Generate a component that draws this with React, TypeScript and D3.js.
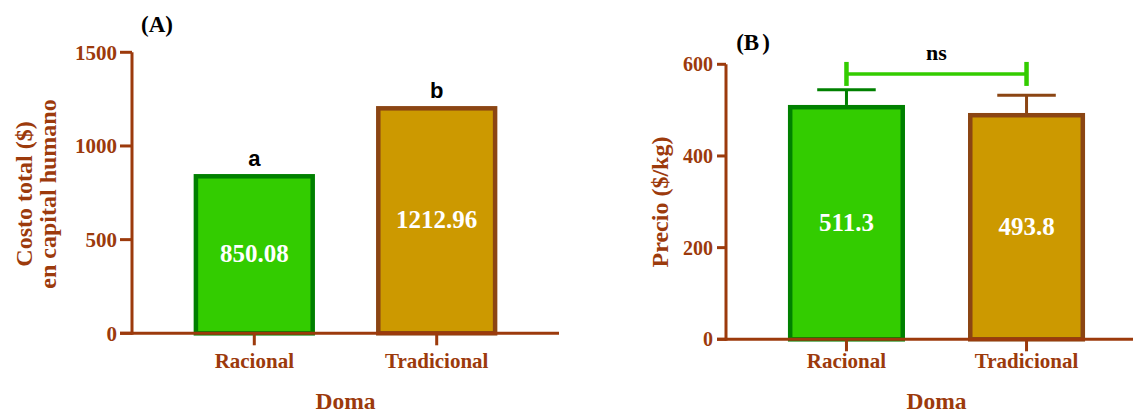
import React from "react";
import * as d3 from "d3";

const categories = ["Racional", "Tradicional"];
const costValues = [850.08, 1212.96];
const costLetters = ["a", "b"];
const costTicks = [0, 500, 1000, 1500];
const priceValues = [511.3, 493.8];
const priceErrors = [33, 38.5];
const priceTicks = [0, 200, 400, 600];
const priceBracket = 579;

const fills = ["#33cc00", "#cc9900"];
const strokes = ["#008000", "#8b4513"];
const axisColor = "#9c3a0c";
const serif = "'Liberation Serif', 'Times New Roman', serif";
const sans = "'Liberation Sans', Arial, sans-serif";

const W = 1133;
const H = 413;

type PanelProps = {
  values: number[];
  ticks: number[];
  yMax: number;
  x0: number;
  x1: number;
  y0: number;
  y1: number;
  padInner: number;
  padOuter: number;
  tickLen: number;
  labelGap: number;
  tickFont: number;
  catY: number;
  errors?: number[];
  letters?: string[];
  bracket?: number;
  titleLines: { text: string; x: number }[];
  titleY: number;
  panelLabel: React.ReactNode;
  panelLabelX: number;
  panelLabelY: number;
};

function Panel(p: PanelProps) {
  const x = d3
    .scaleBand<string>()
    .domain(categories)
    .range([p.x0, p.x1])
    .paddingInner(p.padInner)
    .paddingOuter(p.padOuter);
  const y = d3.scaleLinear().domain([0, p.yMax]).range([p.y0, p.y1]);
  const bw = x.bandwidth();
  const sw = 4.5;
  const mid = (p.x0 + p.x1) / 2;

  return (
    <g>
      {/* bars */}
      {categories.map((c, i) => {
        const bx = x(c)!;
        const top = y(p.values[i]);
        return (
          <g key={c}>
            {p.errors && (
              <g stroke={strokes[i]} strokeWidth={3}>
                <line x1={bx + bw / 2} x2={bx + bw / 2} y1={top} y2={y(p.values[i] + p.errors[i])} />
                <line
                  x1={bx + bw / 2 - bw / 4}
                  x2={bx + bw / 2 + bw / 4}
                  y1={y(p.values[i] + p.errors[i])}
                  y2={y(p.values[i] + p.errors[i])}
                />
              </g>
            )}
            <rect
              x={bx + sw / 2}
              y={top + sw / 2}
              width={bw - sw}
              height={y(0) - top - sw / 2}
              fill={fills[i]}
              stroke={strokes[i]}
              strokeWidth={sw}
            />
            <text
              x={bx + bw / 2}
              y={(top + y(0)) / 2}
              dy="0.35em"
              textAnchor="middle"
              fill="#ffffff"
              fontFamily={serif}
              fontWeight="bold"
              fontSize={25}
            >
              {p.values[i]}
            </text>
            {p.letters && (
              <text
                x={bx + bw / 2}
                y={top - 8}
                textAnchor="middle"
                fill="#000"
                fontFamily={sans}
                fontWeight="bold"
                fontSize={22}
              >
                {p.letters[i]}
              </text>
            )}
          </g>
        );
      })}

      {/* significance bracket */}
      {p.bracket !== undefined && (
        <g stroke="#33cc00">
          <line
            x1={x(categories[0])! + bw / 2}
            x2={x(categories[1])! + bw / 2}
            y1={y(p.bracket)}
            y2={y(p.bracket)}
            strokeWidth={3.5}
          />
          {categories.map((c) => (
            <line
              key={c}
              x1={x(c)! + bw / 2}
              x2={x(c)! + bw / 2}
              y1={y(p.bracket!) - 12}
              y2={y(p.bracket!) + 12}
              strokeWidth={4.5}
            />
          ))}
          <text
            x={(x(categories[0])! + x(categories[1])!) / 2 + bw / 2}
            y={y(p.bracket) - 14}
            textAnchor="middle"
            fill="#000"
            stroke="none"
            fontFamily={serif}
            fontWeight="bold"
            fontSize={22}
          >
            ns
          </text>
        </g>
      )}

      {/* axes */}
      <g stroke={axisColor} strokeWidth={3}>
        <line x1={p.x0} x2={p.x0} y1={p.y0 + 1.5} y2={p.y1} />
        <line x1={p.x0 - p.tickLen} x2={p.x1} y1={p.y0} y2={p.y0} />
        {p.ticks.map((t) => (
          <line key={t} x1={p.x0 - p.tickLen} x2={p.x0} y1={y(t)} y2={y(t)} />
        ))}
        {categories.map((c) => (
          <line key={c} x1={x(c)! + bw / 2} x2={x(c)! + bw / 2} y1={p.y0} y2={p.y0 + 12} />
        ))}
      </g>
      <g fill={axisColor} fontFamily={serif} fontWeight="bold">
        {p.ticks.map((t) => (
          <text key={t} x={p.x0 - p.labelGap} y={y(t)} dy="0.35em" textAnchor="end" fontSize={p.tickFont}>
            {t}
          </text>
        ))}
        {categories.map((c) => (
          <text key={c} x={x(c)! + bw / 2} y={p.catY} textAnchor="middle" fontSize={21}>
            {c}
          </text>
        ))}
        <text x={mid} y={409} textAnchor="middle" fontSize={23.5}>
          Doma
        </text>
        {p.titleLines.map((l) => (
          <text
            key={l.text}
            transform={`translate(${l.x},${p.titleY}) rotate(-90)`}
            textAnchor="middle"
            fontSize={24}
          >
            {l.text}
          </text>
        ))}
      </g>
      <text
        x={p.panelLabelX}
        y={p.panelLabelY}
        textAnchor="middle"
        fill="#000"
        fontFamily={serif}
        fontWeight="bold"
        fontSize={23}
      >
        {p.panelLabel}
      </text>
    </g>
  );
}

export default function App() {
  return (
    <svg
      width={W}
      height={H}
      viewBox={`0 0 ${W} ${H}`}
      style={{ position: "absolute", left: 0, top: 0, background: "#fff" }}
    >
      <rect width={W} height={H} fill="#fff" />
      <Panel
        values={costValues}
        ticks={costTicks}
        yMax={1500}
        x0={132}
        x1={559}
        y0={333.3}
        y1={52.3}
        padInner={0.335}
        padOuter={0.338}
        tickLen={12}
        labelGap={15}
        tickFont={21}
        catY={368}
        letters={costLetters}
        titleLines={[
          { text: "Costo total ($)", x: 32 },
          { text: "en capital humano", x: 56 },
        ]}
        titleY={194}
        panelLabel="(A)"
        panelLabelX={157}
        panelLabelY={32}
      />
      <Panel
        values={priceValues}
        ticks={priceTicks}
        yMax={600}
        x0={726}
        x1={1147}
        y0={339.3}
        y1={64.3}
        padInner={0.35}
        padOuter={0.344}
        tickLen={9}
        labelGap={13}
        tickFont={20}
        catY={368}
        errors={priceErrors}
        bracket={priceBracket}
        titleLines={[{ text: "Precio ($/kg)", x: 668 }]}
        titleY={202}
        panelLabel={
          <>
            (B<tspan dx={3}>)</tspan>
          </>
        }
        panelLabelX={753}
        panelLabelY={50}
      />
    </svg>
  );
}
